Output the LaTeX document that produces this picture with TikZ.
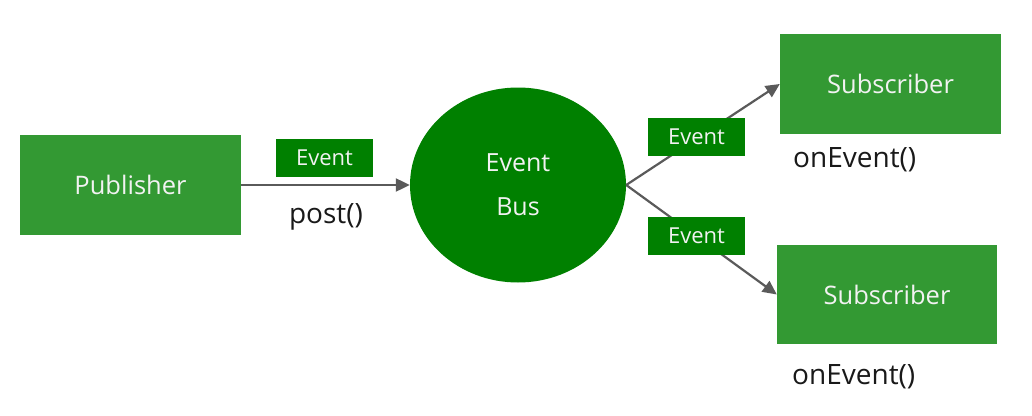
\documentclass[tikz,border=0pt]{standalone}
\usepackage{fontspec}
\setmainfont{Open Sans}
\usetikzlibrary{shapes.geometric,arrows.meta}
\definecolor{boxgreen}{HTML}{339933}
\definecolor{darkgreen}{HTML}{008000}
\definecolor{linegray}{HTML}{5A5A5A}
\definecolor{txtwhite}{HTML}{F2F2F2}
\tikzset{
  bigbox/.style={rectangle,fill=boxgreen,draw=none,minimum width=221pt,minimum height=100pt,inner sep=0pt,text=txtwhite,font=\fontsize{25.5}{30}\selectfont},
  evbox/.style={rectangle,fill=darkgreen,draw=none,minimum width=97pt,minimum height=38pt,inner sep=0pt,text=txtwhite,font=\fontsize{22}{26}\selectfont},
  busnode/.style={ellipse,fill=darkgreen,draw=none,minimum width=216pt,minimum height=195pt,inner sep=0pt,text=txtwhite,font=\fontsize{25}{44}\selectfont,align=center},
  conn/.style={draw=linegray,line width=2.2pt,-{Triangle[length=14pt,width=13pt]}},
  method/.style={inner sep=0pt,text=black!90,font=\fontsize{28}{32}\selectfont}
}
\begin{document}
\begin{tikzpicture}[x=1pt,y=-1pt]
\useasboundingbox (0,0) rectangle (1032,415);
\node[bigbox] (pub) at (130.5,185) {Publisher};
\node[busnode] (bus) at (518,185) {Event\\Bus};
\node[bigbox] (sub1) at (890.5,84) {Subscriber};
\node[bigbox,minimum width=220pt,minimum height=99pt] (sub2) at (887,294.5) {Subscriber};
\draw[conn] (pub.east) -- (bus.west);
\draw[conn] (bus.east) -- (sub1.west);
\draw[conn] (bus.east) -- (sub2.west);
\node[evbox] (ev1) at (324.5,158) {Event};
\node[evbox] (ev2) at (696.5,137) {Event};
\node[evbox] (ev3) at (696.5,236) {Event};
\node[method] (post) at (326,217) {post()};
\node[method,anchor=west] (on1) at (793,160) {onEvent()};
\node[method,anchor=west] (on2) at (792,377) {onEvent()};
\end{tikzpicture}
\end{document}
